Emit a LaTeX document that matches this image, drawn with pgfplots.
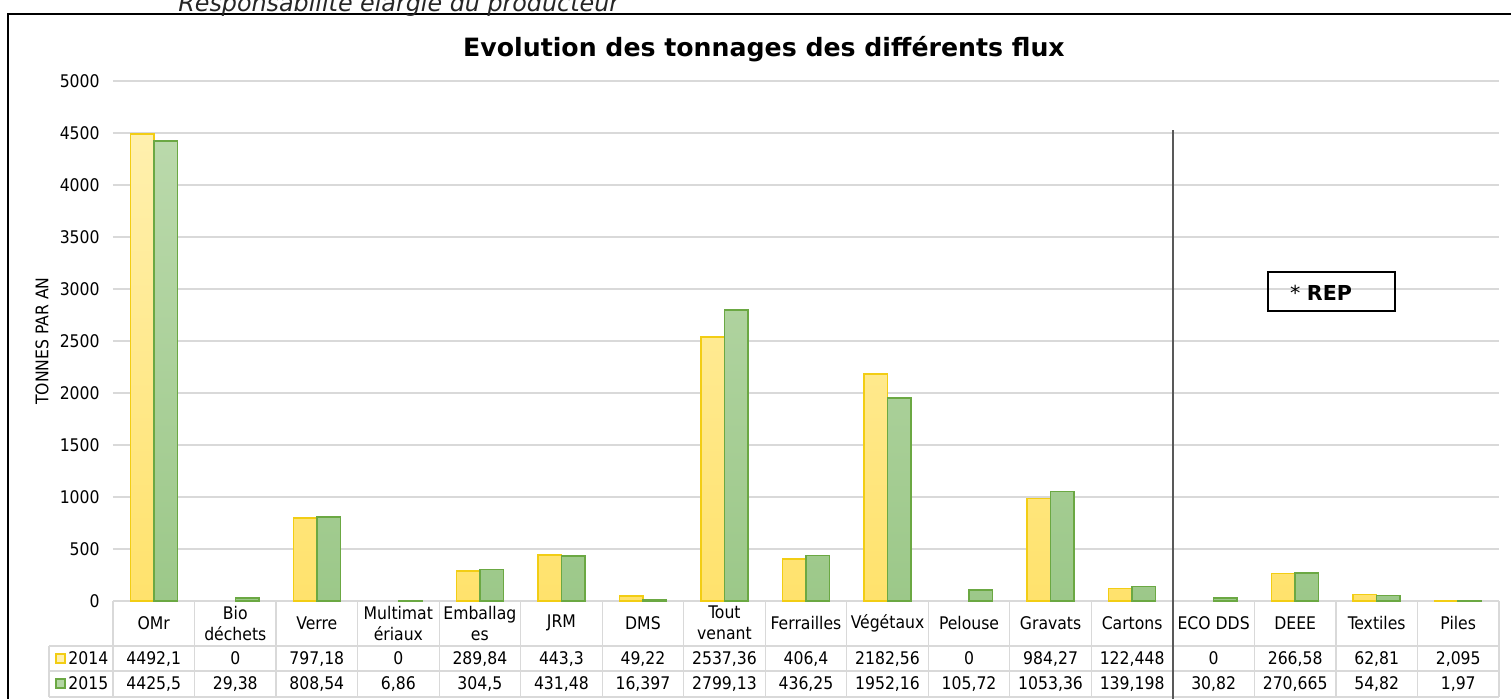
\documentclass[border=0pt]{standalone}
\usepackage{pgfplots}
\pgfplotsset{compat=1.18}
\usepackage{pgfplotstable}
\usepackage{fontspec}
\setmainfont{DejaVu Sans Condensed}
\newfontfamily\verd{DejaVu Sans}

\definecolor{ytop}{HTML}{FFF0AE}
\definecolor{ybot}{HTML}{FFE26C}
\definecolor{yedge}{HTML}{F2CD14}
\definecolor{gtop}{HTML}{BAD9AB}
\definecolor{gbot}{HTML}{9CC889}
\definecolor{gedge}{HTML}{6BA843}
\definecolor{gridgray}{HTML}{D9D9D9}
\definecolor{sepgray}{HTML}{595959}

\newcommand{\tabfont}{\fontsize{8.7pt}{10.5pt}\selectfont}

% tonnages 2014 / 2015 par flux
\pgfplotstableread{
x v14 v15
0 4492.1 4425.5
1 0 29.38
2 797.18 808.54
3 0 6.86
4 289.84 304.5
5 443.3 431.48
6 49.22 16.397
7 2537.36 2799.13
8 406.4 436.25
9 2182.56 1952.16
10 0 105.72
11 984.27 1053.36
12 122.448 139.198
13 0 30.82
14 266.58 270.665
15 62.81 54.82
16 2.095 1.97
}\flux

\begin{document}
\begin{tikzpicture}
\useasboundingbox (0,0) rectangle (755.5pt,-349pt);

% lignes du tableau (sous les barres)
\begin{scope}[x=0.5pt, y=-0.5pt, draw=gridgray, line width=0.6pt]
  \draw (113,601) -- (1499,601);
  \draw (49,646) -- (1499,646);
  \draw (49,671) -- (1499,671);
  \draw (49,697) -- (1499,697);
  \draw (49,646) -- (49,697);
  \foreach \k in {0,...,17} \draw ({113+81.53*\k},601) -- ({113+81.53*\k},697);
\end{scope}

\begin{axis}[
  at={(56.5pt,-300.5pt)}, anchor=south west,
  scale only axis, width=693pt, height=260pt,
  xmin=-0.5, xmax=16.5, ymin=0, ymax=5000,
  ybar=0pt, bar width=11.75pt,
  axis line style={draw=none},
  major tick length=0pt,
  ytick={500,1000,...,5000},
  extra y ticks={0}, extra y tick style={grid=none},
  ymajorgrids, grid style={draw=gridgray, line width=0.7pt},
  xtick={0,...,16},
  xticklabels={OMr, {Bio\\déchets}, Verre, {Multimat\\ériaux}, {Emballag\\es}, JRM, DMS,
    {Tout\\venant}, Ferrailles, Végétaux, Pelouse, Gravats, Cartons, ECO DDS, DEEE, Textiles, Piles},
  xticklabel style={font=\tabfont, align=center, anchor=center, inner sep=0pt, yshift=-11pt},
  yticklabel style={font=\tabfont, anchor=east, inner sep=0pt, xshift=-6.5pt},
  /pgf/number format/assume math mode=true, /pgf/number format/1000 sep={},
  ylabel={TONNES PAR AN},
  ylabel style={font=\tabfont, at={(axis description cs:-0.0512,0.5)}, anchor=center},
  title={Evolution des tonnages des différents flux},
  title style={font=\verd\bfseries\fontsize{12.6pt}{14pt}\selectfont,
    at={(axis description cs:0.4697,1)}, anchor=base, yshift=6.5pt},
  unbounded coords=discard,
  clip=false,
]
\addplot[draw=yedge, line width=0.75pt, top color=ytop, bottom color=ybot,
  y filter/.expression={y==0 ? nan : y}] table[x=x, y=v14] {\flux};
\addplot[draw=gedge, line width=0.75pt, top color=gtop, bottom color=gbot,
  y filter/.expression={y==0 ? nan : y}] table[x=x, y=v15] {\flux};
\end{axis}

\begin{scope}[x=0.5pt, y=-0.5pt]
  % cadre
  \draw[line width=1.25pt] (8,14) rectangle (1540,740);
  \node[anchor=base west, inner sep=0pt, text=black!85,
    font=\verd\itshape\fontsize{11.9pt}{13pt}\selectfont] at (178,11)
    {Responsabilité élargie du producteur};

  % valeurs du tableau
  \draw[draw=yedge, fill=ytop, line width=0.6pt] (56,654) rectangle (65,663);
  \draw[draw=gedge, fill=gtop!80!gbot, line width=0.6pt] (56,679) rectangle (65,688);
  \node[anchor=base west, inner sep=0pt, font=\tabfont] at (68,664.5) {2014};
  \node[anchor=base west, inner sep=0pt, font=\tabfont] at (68,689.5) {2015};
  \foreach \i in {0,...,16}{
    \pgfplotstablegetelem{\i}{v14}\of\flux
    \node[anchor=base, inner sep=0pt, font=\tabfont] at ({113+81.53*(\i+0.5)},664.5)
      {\pgfmathprintnumber[fixed, precision=3, use comma, 1000 sep={}, assume math mode=true]{\pgfplotsretval}};
    \pgfplotstablegetelem{\i}{v15}\of\flux
    \node[anchor=base, inner sep=0pt, font=\tabfont] at ({113+81.53*(\i+0.5)},689.5)
      {\pgfmathprintnumber[fixed, precision=3, use comma, 1000 sep={}, assume math mode=true]{\pgfplotsretval}};
  }

  % séparation REP
  \draw[sepgray, line width=0.75pt] (1173,130) -- (1173,700);
  \draw[line width=0.75pt] (1268,272) rectangle (1395,311);
  \node[anchor=base, inner sep=0pt, font=\verd\fontsize{10.3pt}{12pt}\selectfont] at (1321,300)
    {* \textbf{REP}};
\end{scope}
\end{tikzpicture}
\end{document}
